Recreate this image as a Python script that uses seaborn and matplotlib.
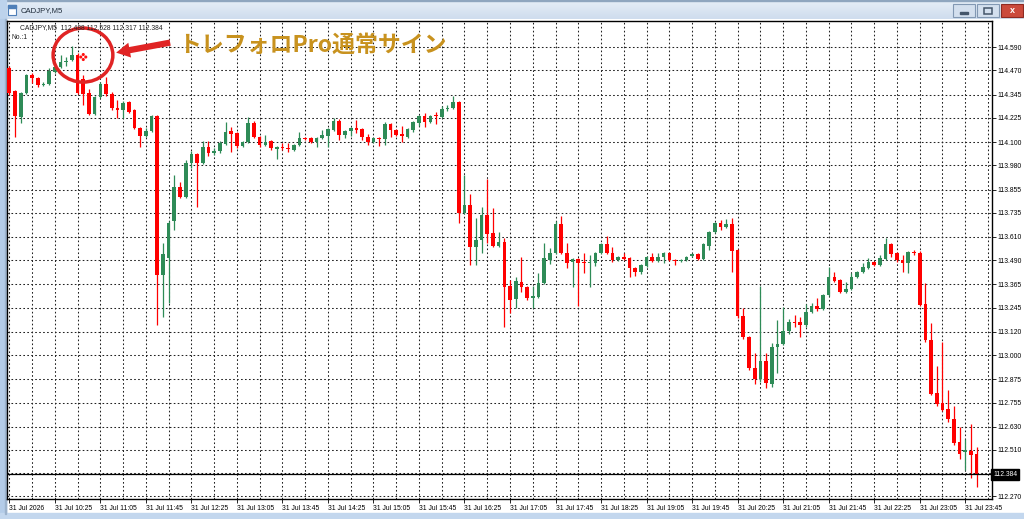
import numpy as np
import pandas as pd
import matplotlib
matplotlib.use("Agg")
import matplotlib.pyplot as plt
import seaborn as sns
from matplotlib.patches import Ellipse, Rectangle, FancyArrowPatch
from matplotlib import transforms
from matplotlib.ticker import FixedLocator

# ---------------- data ----------------
symbol = "CADJPY,M5"
window_title = "CADJPY,M5"
indicator_label = "No.:1"
annotation_text = "トレフォロPro通常サイン"

opens = [114.482, 114.363, 114.229, 114.353, 114.446, 114.430, 114.394, 114.399, 114.461, 114.487,
         114.513, 114.523, 114.549, 114.425, 114.353, 114.244, 114.332, 114.399, 114.348, 114.275,
         114.265, 114.306, 114.265, 114.172, 114.131, 114.157, 114.234, 113.413, 113.501, 113.690,
         113.868, 113.816, 113.991, 114.038, 113.991, 114.074, 114.043, 114.053, 114.090, 114.157,
         114.146, 114.079, 114.100, 114.198, 114.126, 114.084, 114.105, 114.064, 114.074, 114.069,
         114.058, 114.084, 114.121, 114.121, 114.100, 114.121, 114.131, 114.162, 114.208, 114.136,
         114.157, 114.172, 114.167, 114.126, 114.100, 114.121, 114.115, 114.193, 114.162, 114.141,
         114.126, 114.162, 114.198, 114.234, 114.203, 114.239, 114.229, 114.270, 114.275, 114.306,
         113.733, 113.775, 113.558, 113.594, 113.723, 113.630, 113.563, 113.584, 113.356, 113.289,
         113.377, 113.351, 113.294, 113.300, 113.372, 113.491, 113.527, 113.676, 113.527, 113.480,
         113.496, 113.480, 113.475, 113.475, 113.527, 113.573, 113.527, 113.491, 113.506, 113.501,
         113.449, 113.429, 113.460, 113.506, 113.485, 113.506, 113.527, 113.491, 113.485, 113.491,
         113.511, 113.522, 113.496, 113.563, 113.635, 113.682, 113.661, 113.676, 113.542, 113.201,
         113.093, 112.933, 112.876, 112.969, 112.851, 113.041, 113.057, 113.124, 113.170, 113.170,
         113.155, 113.222, 113.253, 113.238, 113.310, 113.403, 113.387, 113.325, 113.341, 113.403,
         113.429, 113.449, 113.480, 113.465, 113.496, 113.573, 113.527, 113.491, 113.475, 113.532,
         113.527, 113.263, 113.078, 112.804, 112.752, 112.721, 112.670, 112.551, 112.499, 112.505,
         112.488]

highs = [114.492, 114.368, 114.358, 114.451, 114.456, 114.435, 114.410, 114.482, 114.497, 114.549,
         114.539, 114.595, 114.559, 114.446, 114.373, 114.337, 114.409, 114.435, 114.358, 114.317,
         114.312, 114.312, 114.270, 114.177, 114.172, 114.239, 114.239, 113.578, 113.690, 113.929,
         113.893, 114.007, 114.053, 114.043, 114.105, 114.105, 114.069, 114.105, 114.203, 114.177,
         114.151, 114.105, 114.229, 114.208, 114.131, 114.136, 114.110, 114.079, 114.095, 114.095,
         114.090, 114.151, 114.126, 114.126, 114.126, 114.162, 114.172, 114.224, 114.218, 114.162,
         114.177, 114.213, 114.172, 114.141, 114.126, 114.126, 114.203, 114.198, 114.167, 114.182,
         114.172, 114.208, 114.239, 114.250, 114.239, 114.255, 114.286, 114.291, 114.337, 114.312,
         113.929, 113.831, 113.707, 113.764, 113.909, 113.759, 113.635, 113.604, 113.387, 113.403,
         113.506, 113.356, 113.356, 113.424, 113.578, 113.553, 113.692, 113.718, 113.578, 113.501,
         113.501, 113.527, 113.516, 113.532, 113.578, 113.614, 113.558, 113.511, 113.527, 113.506,
         113.455, 113.470, 113.511, 113.527, 113.527, 113.532, 113.532, 113.496, 113.496, 113.511,
         113.527, 113.527, 113.578, 113.640, 113.687, 113.697, 113.702, 113.707, 113.547, 113.243,
         113.098, 113.010, 113.356, 113.010, 113.062, 113.181, 113.248, 113.186, 113.207, 113.196,
         113.263, 113.269, 113.294, 113.315, 113.455, 113.429, 113.392, 113.377, 113.424, 113.434,
         113.475, 113.501, 113.485, 113.516, 113.604, 113.578, 113.532, 113.516, 113.537, 113.542,
         113.537, 113.372, 113.165, 112.943, 113.067, 112.819, 112.737, 112.628, 112.566, 112.644,
         112.528]

lows = [114.343, 114.126, 114.198, 114.348, 114.404, 114.384, 114.390, 114.394, 114.456, 114.482,
        114.492, 114.518, 114.348, 114.291, 114.239, 114.239, 114.327, 114.338, 114.265, 114.224,
        114.224, 114.250, 114.167, 114.074, 114.126, 114.151, 113.155, 113.196, 113.269, 113.645,
        113.811, 113.811, 113.965, 113.764, 113.986, 114.028, 114.033, 114.043, 114.084, 114.048,
        114.069, 114.074, 114.095, 114.121, 114.074, 114.079, 114.058, 114.012, 114.058, 114.048,
        114.053, 114.079, 114.110, 114.095, 114.074, 114.115, 114.074, 114.157, 114.110, 114.121,
        114.131, 114.146, 114.110, 114.084, 114.095, 114.079, 114.084, 114.126, 114.131, 114.100,
        114.121, 114.151, 114.182, 114.177, 114.198, 114.193, 114.224, 114.260, 114.270, 113.682,
        113.728, 113.465, 113.465, 113.527, 113.578, 113.558, 113.558, 113.145, 113.217, 113.243,
        113.325, 113.284, 113.243, 113.294, 113.367, 113.470, 113.522, 113.522, 113.449, 113.351,
        113.253, 113.424, 113.351, 113.460, 113.522, 113.522, 113.480, 113.485, 113.491, 113.403,
        113.408, 113.419, 113.455, 113.480, 113.480, 113.475, 113.485, 113.465, 113.480, 113.485,
        113.506, 113.491, 113.491, 113.542, 113.630, 113.645, 113.656, 113.429, 113.191, 113.083,
        112.923, 112.851, 112.861, 112.830, 112.835, 112.907, 113.052, 113.109, 113.145, 113.093,
        113.145, 113.217, 113.227, 113.232, 113.305, 113.377, 113.320, 113.320, 113.336, 113.398,
        113.424, 113.444, 113.460, 113.460, 113.491, 113.506, 113.480, 113.429, 113.424, 113.516,
        113.253, 113.067, 112.794, 112.737, 112.711, 112.654, 112.536, 112.463, 112.406, 112.365,
        112.317]

closes = [114.353, 114.234, 114.353, 114.446, 114.430, 114.394, 114.400, 114.466, 114.487, 114.513,
          114.518, 114.549, 114.353, 114.348, 114.244, 114.332, 114.399, 114.348, 114.275, 114.265,
          114.301, 114.255, 114.172, 114.131, 114.157, 114.234, 113.413, 113.522, 113.682, 113.868,
          113.816, 113.991, 114.038, 113.991, 114.074, 114.043, 114.053, 114.095, 114.151, 114.141,
          114.079, 114.100, 114.198, 114.126, 114.084, 114.100, 114.069, 114.074, 114.069, 114.064,
          114.084, 114.121, 114.118, 114.100, 114.121, 114.136, 114.167, 114.208, 114.136, 114.157,
          114.172, 114.162, 114.126, 114.100, 114.121, 114.115, 114.193, 114.162, 114.136, 114.131,
          114.167, 114.203, 114.234, 114.203, 114.234, 114.234, 114.270, 114.275, 114.306, 113.733,
          113.775, 113.558, 113.594, 113.723, 113.625, 113.563, 113.584, 113.351, 113.284, 113.382,
          113.351, 113.294, 113.305, 113.372, 113.501, 113.527, 113.676, 113.527, 113.475, 113.496,
          113.475, 113.475, 113.480, 113.527, 113.573, 113.527, 113.491, 113.506, 113.496, 113.449,
          113.429, 113.465, 113.506, 113.485, 113.506, 113.527, 113.491, 113.485, 113.491, 113.506,
          113.522, 113.496, 113.573, 113.635, 113.682, 113.661, 113.676, 113.537, 113.201, 113.093,
          112.933, 112.876, 112.969, 112.856, 113.041, 113.057, 113.124, 113.170, 113.165, 113.155,
          113.222, 113.253, 113.238, 113.310, 113.403, 113.382, 113.325, 113.341, 113.403, 113.429,
          113.455, 113.480, 113.465, 113.501, 113.573, 113.522, 113.491, 113.475, 113.532, 113.527,
          113.258, 113.078, 112.799, 112.747, 112.716, 112.670, 112.546, 112.489, 112.510, 112.484,
          112.384]

xtick_positions = [0, 8, 16, 24, 32, 40, 48, 56, 64, 72, 80, 88, 96, 104, 112, 120, 128, 136, 144, 152, 160, 168]
xtick_labels = ["31 Jul 2026", "31 Jul 10:25", "31 Jul 11:05", "31 Jul 11:45", "31 Jul 12:25",
                "31 Jul 13:05", "31 Jul 13:45", "31 Jul 14:25", "31 Jul 15:05", "31 Jul 15:45",
                "31 Jul 16:25", "31 Jul 17:05", "31 Jul 17:45", "31 Jul 18:25", "31 Jul 19:05",
                "31 Jul 19:45", "31 Jul 20:25", "31 Jul 21:05", "31 Jul 21:45", "31 Jul 22:25",
                "31 Jul 23:05", "31 Jul 23:45"]
ytick_values = [114.590, 114.470, 114.345, 114.225, 114.100, 113.980, 113.855, 113.735, 113.610,
                113.490, 113.365, 113.245, 113.120, 113.000, 112.875, 112.755, 112.630, 112.510,
                112.390, 112.270]
# the 112.390 label is hidden under the current-price box in the reference
ytick_labels = ["114.590", "114.470", "114.345", "114.225", "114.100", "113.980", "113.855", "113.735",
                "113.610", "113.490", "113.365", "113.245", "113.120", "113.000", "112.875", "112.755",
                "112.630", "112.510", "", "112.270"]
signal_index = [13]
signal_price = [114.539]

# ---------------- style ----------------
sns.set_theme(style="white")
plt.rcParams['font.family'] = ['Liberation Sans', 'DejaVu Sans']

UP = '#2E8B57'
DOWN = '#FF0000'

df = pd.DataFrame({'o': opens, 'h': highs, 'l': lows, 'c': closes})
df['x'] = np.arange(len(df))
df['up'] = df['c'] >= df['o']
df['color'] = np.where(df['up'], UP, DOWN)
df['bottom'] = df[['o', 'c']].min(axis=1)
df['body'] = (df['c'] - df['o']).abs().clip(lower=0.004)

W, H = 1024, 519
fig = plt.figure(figsize=(W / 100, H / 100), dpi=100)
fig.patch.set_facecolor('white')

# ---------------- window chrome (pixel coordinates) ----------------
chrome = fig.add_axes([0, 0, 1, 1], zorder=-10)
chrome.set_xlim(0, W)
chrome.set_ylim(H, 0)
chrome.axis('off')
grad = np.linspace(0, 1, 20)[:, None]
cmap = matplotlib.colors.LinearSegmentedColormap.from_list('tb', ['#E6EEF7', '#CFDDEE'])
chrome.imshow(grad, cmap=cmap, extent=[0, W, 19, 0], aspect='auto', zorder=0)
chrome.add_patch(Rectangle((0, 0), W, 1.2, color='#8FA6BF', zorder=1))
chrome.add_patch(Rectangle((0, 0), 6, H, color='#BDD3EC', zorder=1))
chrome.add_patch(Rectangle((0, 19), 6, H, color='#B4CCE8', zorder=1))
chrome.add_patch(Rectangle((0, 513), W, 6, color='#C3D7EE', zorder=1))
chrome.add_patch(Rectangle((5.2, 19), 1.2, 495, color='#9DB3CC', zorder=2))
# small window icon
chrome.add_patch(Rectangle((8, 5), 8, 10, facecolor='white', edgecolor='#4F7FB8', lw=0.8, zorder=2))
chrome.add_patch(Rectangle((8, 5), 8, 2.5, color='#4F7FB8', zorder=3))
chrome.text(21, 11, window_title, fontsize=5.6, color='#1E2B3A', va='center', ha='left', zorder=3)
# window buttons
for x0, fc, ec in [(953, '#D3DFEE', '#8298B3'), (977, '#D3DFEE', '#8298B3'), (1001, '#CB4A3C', '#8E2A22')]:
    chrome.add_patch(Rectangle((x0, 4), 22, 13, facecolor=fc, edgecolor=ec, lw=0.8, zorder=3))
chrome.add_patch(Rectangle((960, 11.5), 8, 2, color='#44556A', zorder=4))
chrome.add_patch(Rectangle((984, 7.5), 8, 6, facecolor='none', edgecolor='#44556A', lw=1.1, zorder=4))
chrome.text(1012, 10.8, 'x', fontsize=6.5, color='white', ha='center', va='center',
            fontweight='bold', zorder=4)

# ---------------- chart axes ----------------
px_left, px_right, px_top, px_bottom = 6.7, 991.5, 21, 499
ax = fig.add_axes([px_left / W, 1 - px_bottom / H, (px_right - px_left) / W, (px_bottom - px_top) / H])
ax.set_facecolor('white')

ax.vlines(df['x'], df['l'], df['h'], colors=df['color'], lw=0.9, zorder=3)
ax.bar(df['x'], df['body'], bottom=df['bottom'], width=0.64, color=df['color'],
       edgecolor='none', linewidth=0, zorder=4)

ax.set_xlim(-0.457, 172.62)
ax.set_ylim(112.257, 114.725)

# grid & ticks
ax.xaxis.set_major_locator(FixedLocator(xtick_positions))
ax.xaxis.set_minor_locator(FixedLocator(list(range(0, 173, 4))))
ax.set_xticklabels(xtick_labels)
for lab in ax.get_xticklabels():
    lab.set_ha('left')
ax.yaxis.tick_right()
ax.yaxis.set_major_locator(FixedLocator(ytick_values))
ax.set_yticklabels(ytick_labels)
ax.grid(which='major', axis='both', color='#222222', linestyle=(0, (1.6, 2.2)), linewidth=0.75, zorder=1)
ax.grid(which='minor', axis='x', color='#222222', linestyle=(0, (1.6, 2.2)), linewidth=0.75, zorder=1)
ax.set_axisbelow(True)
ax.tick_params(axis='x', which='major', direction='out', length=3, width=0.6, pad=1.5,
               labelsize=4.9, colors='black', bottom=True)
ax.tick_params(axis='x', which='minor', length=0)
ax.tick_params(axis='y', which='major', direction='out', length=3, width=0.6, pad=1.5,
               labelsize=4.9, colors='black', right=True, left=False)
for sp in ax.spines.values():
    sp.set_color('black')
    sp.set_linewidth(1.0)
ax.set_xlabel('')
ax.set_ylabel('')

# current price line and box
last_close = closes[-1]
ax.axhline(last_close, color='black', lw=0.9, zorder=5)
ax.text(1.0016, last_close, f"{last_close:.3f}",
        transform=transforms.blended_transform_factory(ax.transAxes, ax.transData),
        fontsize=4.9, color='white', va='center', ha='left', clip_on=False, zorder=20,
        bbox=dict(boxstyle='square,pad=0.3', fc='black', ec='black'))

# header texts
chrome.text(11, 28, '▼', fontsize=4.2, color='black', va='center', ha='left', family=['DejaVu Sans'], zorder=5)
header = f"{symbol}  {opens[-1]:.3f} {highs[-1]:.3f} {lows[-1]:.3f} {closes[-1]:.3f}"
fig.text(19.5 / W, 1 - 28 / H, header, fontsize=4.9, color='#222222', va='center', ha='left', zorder=30)
fig.text(11.5 / W, 1 - 37.5 / H, indicator_label, fontsize=4.9, color='#222222', va='center', ha='left', zorder=30)

# signal dots (4-dot diamond)
for dx, dy in [(0, 1.8), (-1.8, 0), (1.8, 0), (0, -1.8)]:
    tr = transforms.offset_copy(ax.transData, fig=fig, x=dx, y=dy, units='points')
    sns.scatterplot(x=signal_index, y=signal_price, ax=ax, s=5, color='#FF1010', edgecolor='none',
                    transform=tr, zorder=8, legend=False)
ax.set_xlabel('')
ax.set_ylabel('')

# annotation circle, arrow and text
ax.add_patch(Ellipse((signal_index[0] - 0.05, signal_price[0] + 0.01), width=10.5, height=0.279,
                     fill=False, edgecolor='#E02424', lw=2.5, zorder=9, clip_on=False))
ax.add_patch(FancyArrowPatch((28.75, 114.616), (18.3, 114.559),
                             arrowstyle='simple,head_length=1.1,head_width=1.2,tail_width=0.5',
                             mutation_scale=9, color='#E02424', lw=0, zorder=9, clip_on=False))
ax.text(29.7, 114.601, annotation_text, fontsize=16.5, fontweight='bold', color='#C8921E',
        va='center', ha='left', family=['Noto Sans CJK JP', 'DejaVu Sans'], zorder=10)

fig.savefig('out.png', dpi=100, facecolor=fig.get_facecolor())
